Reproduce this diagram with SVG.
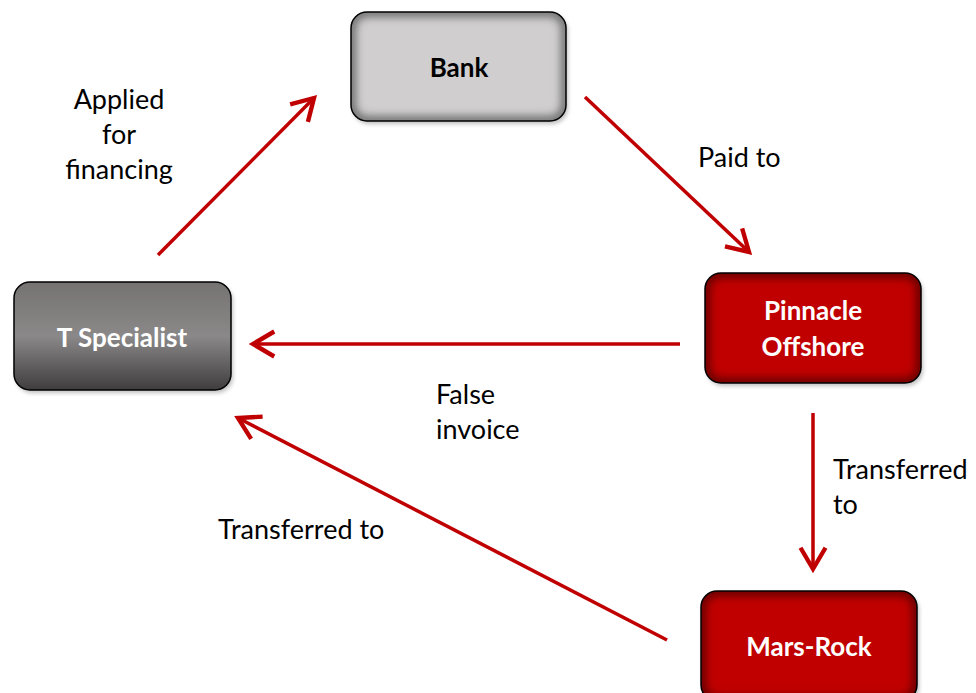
<svg xmlns="http://www.w3.org/2000/svg" width="976" height="693" viewBox="0 0 976 693">
<style>
.lbl{font-family:Lato,"Liberation Sans",sans-serif;font-size:27px;fill:#000}
.nt{font-family:Lato,"Liberation Sans",sans-serif;font-size:26px;font-weight:bold;text-anchor:middle}
.conn{stroke:#C00000;stroke-width:3.5;fill:none;marker-end:url(#ah)}
.edge{fill:none;stroke:#000;stroke-width:1.5}
</style>
<defs>
<marker id="ah" markerUnits="userSpaceOnUse" markerWidth="30" markerHeight="30" viewBox="-20 -12 24 24" refX="0" refY="0" orient="auto">
<path d="M-17,-10 L0,0 L-17,10" fill="none" stroke="#C00000" stroke-width="3.5"/>
</marker>
<filter id="inner" x="-10%" y="-10%" width="120%" height="120%"><feGaussianBlur stdDeviation="5"/></filter>
<filter id="drop" x="-10%" y="-10%" width="130%" height="130%"><feGaussianBlur stdDeviation="2"/></filter>
<linearGradient id="gT" x1="0" y1="0" x2="0" y2="1">
<stop offset="0" stop-color="#767272"/>
<stop offset="0.5" stop-color="#8a8888"/>
<stop offset="1" stop-color="#3f3d3d"/>
</linearGradient>
<clipPath id="cB"><rect x="351" y="12" width="215" height="109" rx="16"/></clipPath>
<clipPath id="cT"><rect x="14" y="282" width="217" height="108" rx="16"/></clipPath>
<clipPath id="cP"><rect x="705" y="273" width="216" height="110" rx="16"/></clipPath>
<clipPath id="cM"><rect x="701" y="591" width="216" height="110" rx="16"/></clipPath>
</defs>
<rect width="976" height="693" fill="#fff"/>
<g id="connectors">
<line class="conn" x1="158" y1="255" x2="314" y2="98"/>
<line class="conn" x1="585" y1="97" x2="749" y2="252"/>
<line class="conn" x1="680" y1="344" x2="253" y2="344"/>
<line class="conn" x1="813" y1="413" x2="813" y2="569"/>
<line class="conn" x1="667" y1="640" x2="238" y2="418"/>
</g>
<g id="labels">
<text class="lbl" text-anchor="middle"><tspan x="119" y="109">Applied</tspan><tspan x="119" y="144">for</tspan><tspan x="119" y="179">financing</tspan></text>
<text class="lbl" x="698" y="167">Paid to</text>
<text class="lbl"><tspan x="436" y="404">False</tspan><tspan x="436" y="439">invoice</tspan></text>
<text class="lbl"><tspan x="833" y="479">Transferred</tspan><tspan x="833" y="514">to</tspan></text>
<text class="lbl" x="218" y="539">Transferred to</text>
</g>
<g id="bank">
<rect x="353" y="15" width="215" height="109" rx="16" fill="#000" opacity="0.25" filter="url(#drop)"/>
<rect x="351" y="12" width="215" height="109" rx="16" fill="#D0CECE"/>
<rect x="351" y="12" width="215" height="109" rx="16" fill="none" stroke="#555" stroke-width="8" filter="url(#inner)" clip-path="url(#cB)"/>
<rect class="edge" x="351" y="12" width="215" height="109" rx="16"/>
<text class="nt" x="459" y="77" fill="#000">Bank</text>
</g>
<g id="tspecialist">
<rect x="16" y="285" width="217" height="108" rx="16" fill="#000" opacity="0.25" filter="url(#drop)"/>
<rect x="14" y="282" width="217" height="108" rx="16" fill="url(#gT)"/>
<rect class="edge" x="14" y="282" width="217" height="108" rx="16"/>
<text class="nt" x="122" y="347" fill="#fff">T Specialist</text>
</g>
<g id="pinnacle">
<rect x="707" y="276" width="216" height="110" rx="16" fill="#000" opacity="0.25" filter="url(#drop)"/>
<rect x="705" y="273" width="216" height="110" rx="16" fill="#C00000"/>
<rect x="705" y="273" width="216" height="110" rx="16" fill="none" stroke="#500000" stroke-width="8" filter="url(#inner)" clip-path="url(#cP)"/>
<rect class="edge" x="705" y="273" width="216" height="110" rx="16"/>
<text class="nt" fill="#fff"><tspan x="813" y="320">Pinnacle</tspan><tspan x="813" y="356">Offshore</tspan></text>
</g>
<g id="marsrock">
<rect x="703" y="594" width="216" height="110" rx="16" fill="#000" opacity="0.25" filter="url(#drop)"/>
<rect x="701" y="591" width="216" height="110" rx="16" fill="#C00000"/>
<rect x="701" y="591" width="216" height="110" rx="16" fill="none" stroke="#500000" stroke-width="8" filter="url(#inner)" clip-path="url(#cM)"/>
<rect class="edge" x="701" y="591" width="216" height="110" rx="16"/>
<text class="nt" x="809" y="656" fill="#fff">Mars-Rock</text>
</g>
</svg>
